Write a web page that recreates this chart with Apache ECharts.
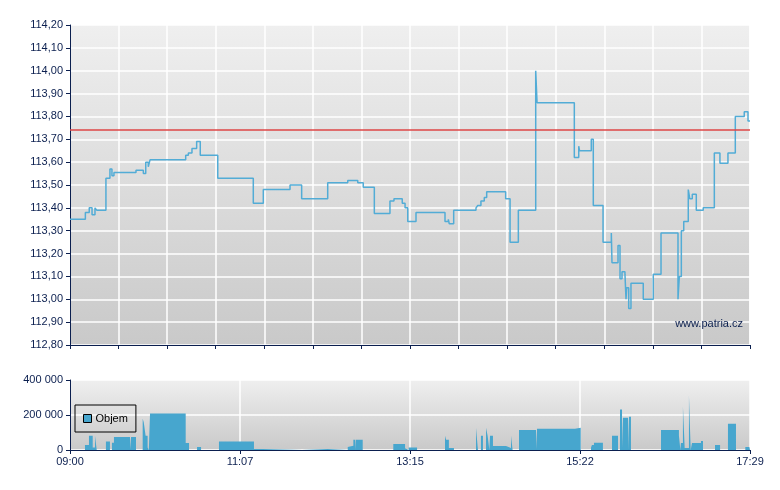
<!DOCTYPE html>
<html>
<head>
<meta charset="utf-8">
<script src="https://cdn.jsdelivr.net/npm/echarts@6/dist/echarts.min.js"></script>
<style>
  html, body { margin: 0; padding: 0; background: #fff; }
  #chart { width: 780px; height: 490px; }
</style>
</head>
<body>
<div id="chart"></div>
<script>
// minutes after 09:00, session runs to 17:29
let sessionEnd = 509;

// price steps: value holds from time until next time
let priceTimes = [0, 11.5, 14.4, 16.5, 18.7, 20.0, 26.9, 29.9, 31.4, 32.9, 49.4, 54.9, 56.7, 58.6, 59.9,
    86.6, 88.6, 91.3, 94.8, 97.5, 110.6, 137.2, 144.7, 164.7, 173.4, 192.9, 207.9, 215.4, 219.5, 227.8,
    239.5, 242.5, 248.7, 250.8, 252.8, 259.0, 280.7, 283.2, 283.9, 287.2, 303.9, 305.2, 307.6, 310.1, 311.9,
    314.4, 315.6, 326.1, 329.4, 335.6, 348.6, 349.6, 377.5, 380.8, 381.4, 390.2, 391.7, 399.0, 405.2, 405.7,
    410.2, 411.7, 413.2, 415.4, 416.2, 416.7, 418.2, 419.9, 429.1, 436.6, 442.4, 455.1, 456.1, 457.6, 459.4,
    462.8, 463.9, 465.8, 468.8, 474.0, 482.3, 486.5, 492.5, 498.0, 504.7, 507.5, 509];
let prices = [113.35, 113.38, 113.40, 113.37, 113.40, 113.39, 113.53, 113.57, 113.54, 113.555, 113.565, 113.55, 113.60, 113.58, 113.61,
    113.63, 113.64, 113.66, 113.69, 113.63, 113.53, 113.42, 113.48, 113.50, 113.44, 113.51, 113.52, 113.51, 113.49, 113.375,
    113.43, 113.44, 113.42, 113.40, 113.34, 113.38, 113.34, 113.35, 113.33, 113.39, 113.40, 113.41, 113.43, 113.445, 113.47,
    113.475, 113.47, 113.44, 113.25, 113.39, 114.00, 113.86, 113.62, 113.67, 113.65, 113.70, 113.41, 113.25, 113.29, 113.16,
    113.235, 113.09, 113.12, 113.11, 113.00, 113.05, 112.96, 113.07, 113.00, 113.11, 113.29, 113.00, 113.10, 113.30, 113.34,
    113.48, 113.44, 113.46, 113.39, 113.40, 113.64, 113.595, 113.64, 113.80, 113.82, 113.78, 113.78];

// previous close (red line)
let refPrice = 113.74;

// volume steps
let volTimes = [0, 11.2, 14.2, 17.0, 18.7, 20.0, 26.9, 29.9, 31.4, 32.9, 44.9, 45.7, 49.4, 54.4, 55.2,
    56.6, 58.1, 59.0, 59.9, 86.6, 89.1, 95.1, 98.1, 111.5, 137.7, 144.4, 173.7, 192.9, 207.9, 208.8,
    212.1, 213.6, 214.1, 219.1, 242.0, 250.8, 251.5, 253.5, 259.8, 280.7, 281.5, 283.6, 287.4, 303.9, 305.1,
    305.4, 307.6, 309.1, 311.4, 312.6, 313.9, 314.4, 316.6, 326.4, 330.1, 331.3, 336.1, 348.8, 349.6, 378.0,
    382.3, 390.0, 390.7, 392.2, 398.9, 405.7, 410.2, 411.7, 413.2, 413.9, 417.7, 418.4, 419.9, 442.4, 455.8,
    456.9, 457.3, 458.8, 460.1, 463.3, 464.6, 465.6, 472.3, 473.8, 482.8, 486.6, 492.5, 498.5, 505.5, 508.5, 509];
let volumes = [0, 29000, 81000, 15000, 81000, 0, 48000, 0, 42000, 75000, 0, 75000, 0, 179000, 158000,
    81000, 15000, 0, 208000, 40000, 0, 17000, 0, 48000, 6000, 0, 6000, 0, 17000, 25000,
    58000, 0, 58000, 0, 35000, 10000, 0, 15000, 0, 81000, 58000, 12000, 0, 127000, 23000,
    0, 81000, 0, 127000, 81000, 0, 81000, 23000, 12000, 81000, 0, 115000, 0, 121000, 127000,
    0, 15000, 29000, 42000, 0, 81000, 0, 231000, 12000, 185000, 0, 190000, 0, 115000, 81000,
    0, 40000, 248000, 12000, 312000, 0, 40000, 52000, 0, 29000, 0, 150000, 0, 17000, 23000, 23000];

let navy = '#0b1f4f';
let bgFill = {
    type: 'linear', x: 0, y: 0, x2: 0, y2: 1,
    colorStops: [{offset: 0, color: '#efefef'}, {offset: 1, color: '#c9c9c9'}]
};
let labelFont = {color: navy, fontFamily: 'Liberation Sans, Arial, sans-serif', fontSize: 11};

function timeLabel(v) {
    let m = Math.round(v) + 9 * 60;
    let h = Math.floor(m / 60), mm = m % 60;
    return (h < 10 ? '0' : '') + h + ':' + (mm < 10 ? '0' : '') + mm;
}

let priceData = priceTimes.map((t, i) => [t, prices[i]]);
let volData = volTimes.map((t, i) => [t, volumes[i]]);

let option = {
    animation: false,
    grid: [
        {left: 70, top: 25, width: 680, height: 320, show: true, borderWidth: 0, backgroundColor: bgFill},
        {left: 70, top: 380, width: 680, height: 70, show: true, borderWidth: 0, backgroundColor: bgFill}
    ],
    xAxis: [
        {
            type: 'value', gridIndex: 0, min: 0, max: sessionEnd, interval: sessionEnd / 14,
            axisLine: {show: true, lineStyle: {color: navy, width: 1}},
            axisTick: {show: true, length: 4, lineStyle: {color: navy}},
            axisLabel: {show: false},
            splitLine: {show: true, lineStyle: {color: '#ffffff', width: 1.5}}
        },
        {
            type: 'value', gridIndex: 1, min: 0, max: sessionEnd, interval: sessionEnd / 4,
            axisLine: {show: true, lineStyle: {color: navy, width: 1}},
            axisTick: {show: true, length: 4, lineStyle: {color: navy}},
            axisLabel: Object.assign({margin: 6, formatter: timeLabel}, labelFont),
            splitLine: {show: true, lineStyle: {color: '#ffffff', width: 1.5}}
        }
    ],
    yAxis: [
        {
            type: 'value', gridIndex: 0, min: 112.8, max: 114.2, interval: 0.1,
            axisLine: {show: true, lineStyle: {color: navy, width: 1}},
            axisTick: {show: true, length: 4, lineStyle: {color: navy}},
            axisLabel: Object.assign({margin: 7, formatter: v => v.toFixed(2).replace('.', ',')}, labelFont),
            splitLine: {show: true, lineStyle: {color: '#ffffff', width: 1.5}}
        },
        {
            type: 'value', gridIndex: 1, min: 0, max: 400000, interval: 200000,
            axisLine: {show: true, lineStyle: {color: navy, width: 1}},
            axisTick: {show: true, length: 4, lineStyle: {color: navy}},
            axisLabel: Object.assign({margin: 7, formatter: v => String(v).replace(/\B(?=(\d{3})+(?!\d))/g, ' ')}, labelFont),
            splitLine: {show: true, lineStyle: {color: '#ffffff', width: 1.5}}
        }
    ],
    legend: {
        data: [{name: 'Objem', icon: 'rect', itemStyle: {color: '#47a6ce', borderColor: '#000', borderWidth: 1}}],
        left: 75, top: 405, orient: 'vertical', z: 10,
        padding: [8, 8, 8, 8], itemWidth: 8, itemHeight: 8, itemGap: 0,
        borderColor: '#000', borderWidth: 1, backgroundColor: 'transparent',
        textStyle: {color: '#000', fontFamily: 'Liberation Sans, Arial, sans-serif', fontSize: 11, padding: [0, 0, 0, -1]}
    },
    graphic: [{
        type: 'text', right: 37, top: 318, z: 1,
        style: {text: 'www.patria.cz', fill: navy, font: '11px Liberation Sans, Arial, sans-serif'}
    }],
    series: [
        {
            name: 'Kurz', type: 'line', xAxisIndex: 0, yAxisIndex: 0, step: 'end',
            data: priceData, showSymbol: false, symbol: 'none',
            lineStyle: {color: '#52acd6', width: 1.5},
            markLine: {
                silent: true, symbol: 'none', label: {show: false},
                lineStyle: {color: 'rgba(222,70,70,0.75)', width: 2, type: 'solid'},
                data: [{yAxis: refPrice}]
            },
            z: 3
        },
        {
            name: 'Objem', type: 'line', xAxisIndex: 1, yAxisIndex: 1, step: 'end',
            data: volData, showSymbol: false, symbol: 'none',
            lineStyle: {width: 0, color: '#47a6ce'},
            itemStyle: {color: '#47a6ce'},
            areaStyle: {color: '#47a6ce', opacity: 1},
            z: 3
        }
    ]
};

let chart = echarts.init(document.getElementById('chart'));
chart.setOption(option);
</script>
</body>
</html>
